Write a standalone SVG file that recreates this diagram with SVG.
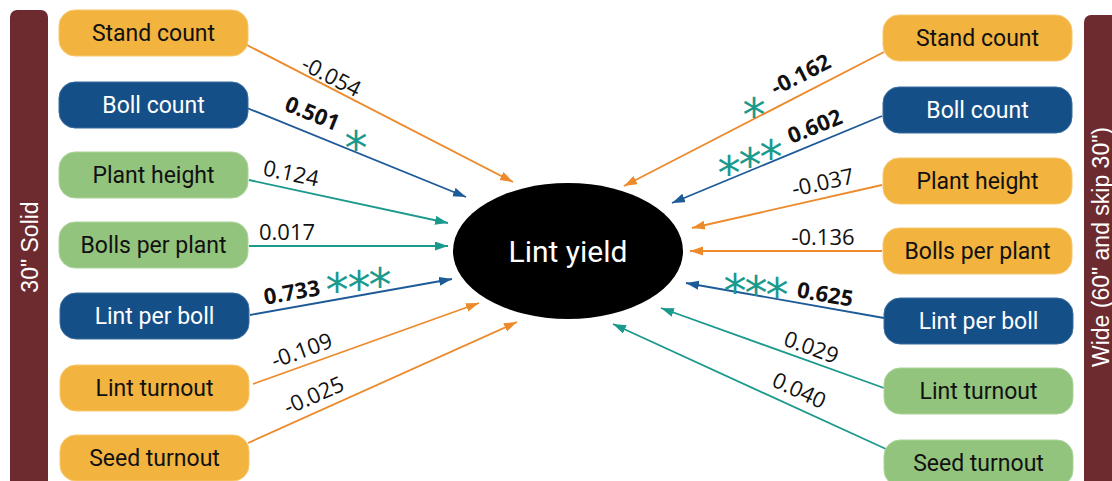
<svg xmlns="http://www.w3.org/2000/svg" width="1112" height="481" viewBox="0 0 1112 481">
  <defs>
    <marker id="arr-orange" markerUnits="userSpaceOnUse" markerWidth="14" markerHeight="10" refX="13" refY="4.5" orient="auto">
      <path d="M0,0 L13,4.5 L0,9 z" fill="#ec8a2c"/>
    </marker>
    <marker id="arr-blue" markerUnits="userSpaceOnUse" markerWidth="14" markerHeight="10" refX="13" refY="4.5" orient="auto">
      <path d="M0,0 L13,4.5 L0,9 z" fill="#1d5a98"/>
    </marker>
    <marker id="arr-teal" markerUnits="userSpaceOnUse" markerWidth="14" markerHeight="10" refX="13" refY="4.5" orient="auto">
      <path d="M0,0 L13,4.5 L0,9 z" fill="#1a998d"/>
    </marker>
    <style>
      .bar { fill: #6d2b2f; }
      .bar-label { font-family: "Liberation Sans", Arial, sans-serif; font-size: 23px; fill: #ffffff; text-anchor: middle; dominant-baseline: central; }
      .box { stroke-width: 1; }
      .orange { fill: #f2b33f; stroke: #f6c76c; }
      .blue { fill: #144f87; stroke: #3a6d9e; }
      .green { fill: #93c47d; stroke: #acd39a; }
      .label { font-family: Roboto, "Noto Sans", sans-serif; font-size: 23px; text-anchor: middle; fill: #111111; }
      .label.light { fill: #ffffff; }
      .conn { stroke-width: 1.8; fill: none; }
      .c-orange { stroke: #ec8a2c; marker-end: url(#arr-orange); }
      .c-blue { stroke: #1d5a98; marker-end: url(#arr-blue); }
      .c-teal { stroke: #1a998d; marker-end: url(#arr-teal); }
      .coef { font-family: "Open Sans", "Noto Sans", sans-serif; font-size: 22px; fill: #111111; text-anchor: middle; }
      .coef.sig { font-weight: bold; }
      .star { font-family: "DejaVu Sans", sans-serif; font-size: 46px; fill: #1a998d; text-anchor: middle; }
    </style>
  </defs>

  <!-- side bars -->
  <g id="bar-solid">
    <rect class="bar" x="10" y="10" width="38" height="490" rx="7"/>
    <text class="bar-label" transform="translate(30,247) rotate(-90)">30" Solid</text>
  </g>
  <g id="bar-wide">
    <rect class="bar" x="1084" y="15" width="40" height="480" rx="7"/>
    <text class="bar-label" transform="translate(1101,247) rotate(-90)">Wide (60" and skip 30")</text>
  </g>

  <!-- connectors -->
  <g id="connectors">
    <line class="conn c-orange" x1="245" y1="44" x2="513" y2="182"/>
    <line class="conn c-blue" x1="247" y1="108" x2="466" y2="197"/>
    <line class="conn c-teal" x1="249" y1="180" x2="448" y2="223"/>
    <line class="conn c-teal" x1="249" y1="246" x2="448" y2="246"/>
    <line class="conn c-blue" x1="250" y1="315" x2="452" y2="279"/>
    <line class="conn c-orange" x1="253" y1="384" x2="479" y2="303"/>
    <line class="conn c-orange" x1="248" y1="443" x2="517" y2="322"/>

    <line class="conn c-orange" x1="884" y1="52" x2="624" y2="186"/>
    <line class="conn c-blue" x1="882" y1="116" x2="672" y2="203"/>
    <line class="conn c-orange" x1="882" y1="185" x2="692" y2="228"/>
    <line class="conn c-orange" x1="882" y1="251" x2="690" y2="251"/>
    <line class="conn c-blue" x1="884" y1="318" x2="686" y2="283"/>
    <line class="conn c-teal" x1="884" y1="388" x2="661" y2="308"/>
    <line class="conn c-teal" x1="886" y1="449" x2="613" y2="324"/>
  </g>

  <!-- path coefficients -->
  <g id="coefficients">
    <text class="coef" transform="translate(331,77) rotate(27)" y="7">-0.054</text>
    <text class="coef sig" transform="translate(312,114) rotate(22)" y="7">0.501</text>
    <text class="coef" transform="translate(291,174) rotate(12)" y="7">0.124</text>
    <text class="coef" transform="translate(287,233)" y="7">0.017</text>
    <text class="coef sig" transform="translate(292,293) rotate(-10)" y="7">0.733</text>
    <text class="coef" transform="translate(302,351) rotate(-20)" y="7">-0.109</text>
    <text class="coef" transform="translate(314,396) rotate(-24)" y="7">-0.025</text>

    <text class="coef sig" transform="translate(801,75) rotate(-27)" y="7">-0.162</text>
    <text class="coef sig" transform="translate(815,127) rotate(-22)" y="7">0.602</text>
    <text class="coef" transform="translate(823,183) rotate(-12.7)" y="7">-0.037</text>
    <text class="coef" transform="translate(823,238)" y="7">-0.136</text>
    <text class="coef sig" transform="translate(825,295) rotate(10)" y="7">0.625</text>
    <text class="coef" transform="translate(811,348) rotate(20)" y="7">0.029</text>
    <text class="coef" transform="translate(799,391) rotate(25)" y="7">0.040</text>
  </g>

  <!-- significance marks -->
  <g id="significance">
    <text class="star" x="356" y="164">*</text>
    <text class="star" x="337" y="306">*</text>
    <text class="star" x="359" y="304">*</text>
    <text class="star" x="380" y="301">*</text>
    <text class="star" x="754" y="131">*</text>
    <text class="star" x="729" y="189">*</text>
    <text class="star" x="750" y="181">*</text>
    <text class="star" x="771" y="173">*</text>
    <text class="star" x="735" y="307">*</text>
    <text class="star" x="756" y="309">*</text>
    <text class="star" x="777" y="311">*</text>
  </g>

  <!-- outcome -->
  <g id="lint-yield">
    <ellipse cx="568" cy="251" rx="115" ry="68" fill="#000000"/>
    <text x="568" y="262" font-family="Roboto, 'Noto Sans', sans-serif" font-size="30" fill="#ffffff" text-anchor="middle">Lint yield</text>
  </g>

  <!-- 30" solid predictors -->
  <g id="solid-stand-count"><rect class="box orange" x="59" y="10" width="189" height="46" rx="16"/><text class="label" x="153.5" y="41">Stand count</text></g>
  <g id="solid-boll-count"><rect class="box blue" x="59" y="82" width="189" height="46" rx="16"/><text class="label light" x="153.5" y="113">Boll count</text></g>
  <g id="solid-plant-height"><rect class="box green" x="59" y="152" width="189" height="46" rx="16"/><text class="label" x="153.5" y="183">Plant height</text></g>
  <g id="solid-bolls-per-plant"><rect class="box green" x="59" y="222" width="189" height="46" rx="16"/><text class="label" x="153.5" y="253">Bolls per plant</text></g>
  <g id="solid-lint-per-boll"><rect class="box blue" x="60" y="293" width="189" height="46" rx="16"/><text class="label light" x="154.5" y="324">Lint per boll</text></g>
  <g id="solid-lint-turnout"><rect class="box orange" x="60" y="365" width="189" height="46" rx="16"/><text class="label" x="154.5" y="396">Lint turnout</text></g>
  <g id="solid-seed-turnout"><rect class="box orange" x="60" y="435" width="189" height="46" rx="16"/><text class="label" x="154.5" y="466">Seed turnout</text></g>

  <!-- wide row predictors -->
  <g id="wide-stand-count"><rect class="box orange" x="883" y="15" width="189" height="46" rx="16"/><text class="label" x="977.5" y="46">Stand count</text></g>
  <g id="wide-boll-count"><rect class="box blue" x="883" y="87" width="189" height="46" rx="16"/><text class="label light" x="977.5" y="118">Boll count</text></g>
  <g id="wide-plant-height"><rect class="box orange" x="883" y="158" width="189" height="46" rx="16"/><text class="label" x="977.5" y="189">Plant height</text></g>
  <g id="wide-bolls-per-plant"><rect class="box orange" x="883" y="228" width="189" height="46" rx="16"/><text class="label" x="977.5" y="259">Bolls per plant</text></g>
  <g id="wide-lint-per-boll"><rect class="box blue" x="884" y="298" width="189" height="46" rx="16"/><text class="label light" x="978.5" y="329">Lint per boll</text></g>
  <g id="wide-lint-turnout"><rect class="box green" x="884" y="368" width="189" height="46" rx="16"/><text class="label" x="978.5" y="399">Lint turnout</text></g>
  <g id="wide-seed-turnout"><rect class="box green" x="884" y="440" width="189" height="46" rx="16"/><text class="label" x="978.5" y="471">Seed turnout</text></g>
</svg>
